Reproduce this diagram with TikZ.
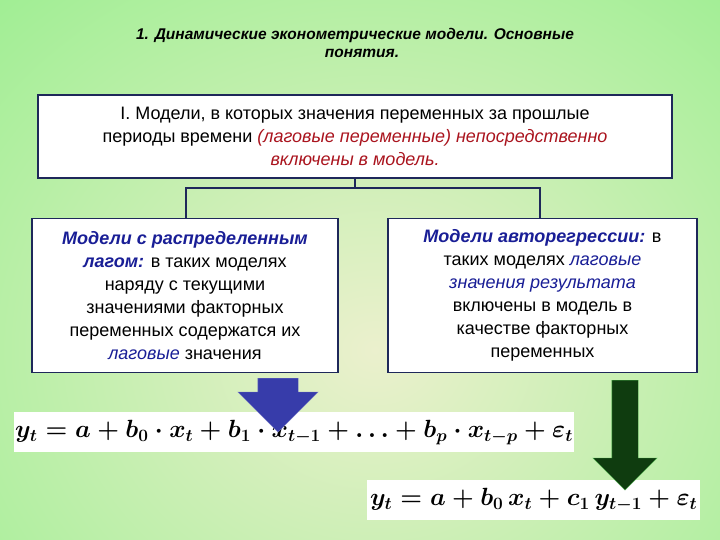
\documentclass[tikz,border=0pt]{standalone}
\usepackage{fontspec}
\setmainfont{Liberation Sans}
\usetikzlibrary{shapes.arrows}
\definecolor{bgout}{RGB}{150,238,140}
\definecolor{bgin}{RGB}{235,240,205}
\definecolor{frame}{RGB}{30,40,90}
\definecolor{redt}{RGB}{170,20,30}
\definecolor{bluet}{RGB}{25,30,150}
\definecolor{barrow}{RGB}{55,60,170}
\definecolor{garrow}{RGB}{15,60,15}
\tikzset{
  box/.style={draw=frame,line width=1.2pt,fill=white,align=center,inner sep=2pt,font=\fontsize{18}{23}\selectfont},
  conn/.style={draw=frame,line width=1.2pt},
  fbox/.style={fill=white,inner sep=1pt,font=\boldmath}
}
\begin{document}
\begin{tikzpicture}[x=1pt,y=-1pt]
\useasboundingbox (0,0) rectangle (720,540);
\shade[inner color=bgin,outer color=bgout] (-250,-200) rectangle (1000,900);
\node[align=center,font=\bfseries\itshape\fontsize{15.5}{18}\selectfont] (title) at (355,43) {1. Динамические эконометрические модели. Основные\\\hspace*{14pt}понятия.};
\node[box,minimum width=634pt,minimum height=83pt] (top) at (355,136.5) {I. Модели, в которых значения переменных за прошлые\\периоды времени \textcolor{redt}{\itshape(лаговые переменные) непосредственно}\\\textcolor{redt}{\itshape включены в модель.}};
\node[box,minimum width=306pt,minimum height=154pt,anchor=north] (left) at (185,218) {\textcolor{bluet}{\bfseries\itshape Модели с распределенным}\\\textcolor{bluet}{\bfseries\itshape лагом:} в таких моделях\\наряду с текущими\\значениями факторных\\переменных содержатся их\\\textcolor{bluet}{\itshape лаговые} значения};
\node[box,minimum width=309pt,minimum height=154pt,anchor=north] (right) at (542.5,218) {\textcolor{bluet}{\bfseries\itshape Модели авторегрессии:} в\\таких моделях \textcolor{bluet}{\itshape лаговые}\\\textcolor{bluet}{\itshape значения результата}\\включены в модель в\\качестве факторных\\переменных};
\coordinate (j) at (355,188);
\draw[conn] (top.south) -- (j);
\draw[conn] (left.north -| 186,0) |- (j) -| (right.north -| 540,0);
\node[fbox,anchor=north west,minimum width=542pt,minimum height=40pt] (f1) at (14,412) {\fontsize{27}{30}\selectfont $y_t = a + b_0\cdot x_t + b_1\cdot x_{t-1} + \ldots + b_p\cdot x_{t-p} + \varepsilon_t$};
\node[fbox,anchor=north west,minimum width=333pt,minimum height=40pt] (f2) at (367,480) {\fontsize{27}{30}\selectfont $y_t = a + b_0\,x_t + c_1\,y_{t-1} + \varepsilon_t$};
\node[single arrow,shape border rotate=270,fill=barrow,draw=barrow!70,minimum height=54pt,minimum width=80pt,single arrow head extend=20pt,inner sep=0pt,anchor=tail,text width=40pt] (a1) at (278,378) {};
\node[single arrow,shape border rotate=270,fill=garrow,draw=gray!60!green,minimum height=110pt,minimum width=64pt,single arrow head extend=19pt,inner sep=0pt,anchor=tail,text width=26pt] (a2) at (625,380) {};
\end{tikzpicture}
\end{document}
